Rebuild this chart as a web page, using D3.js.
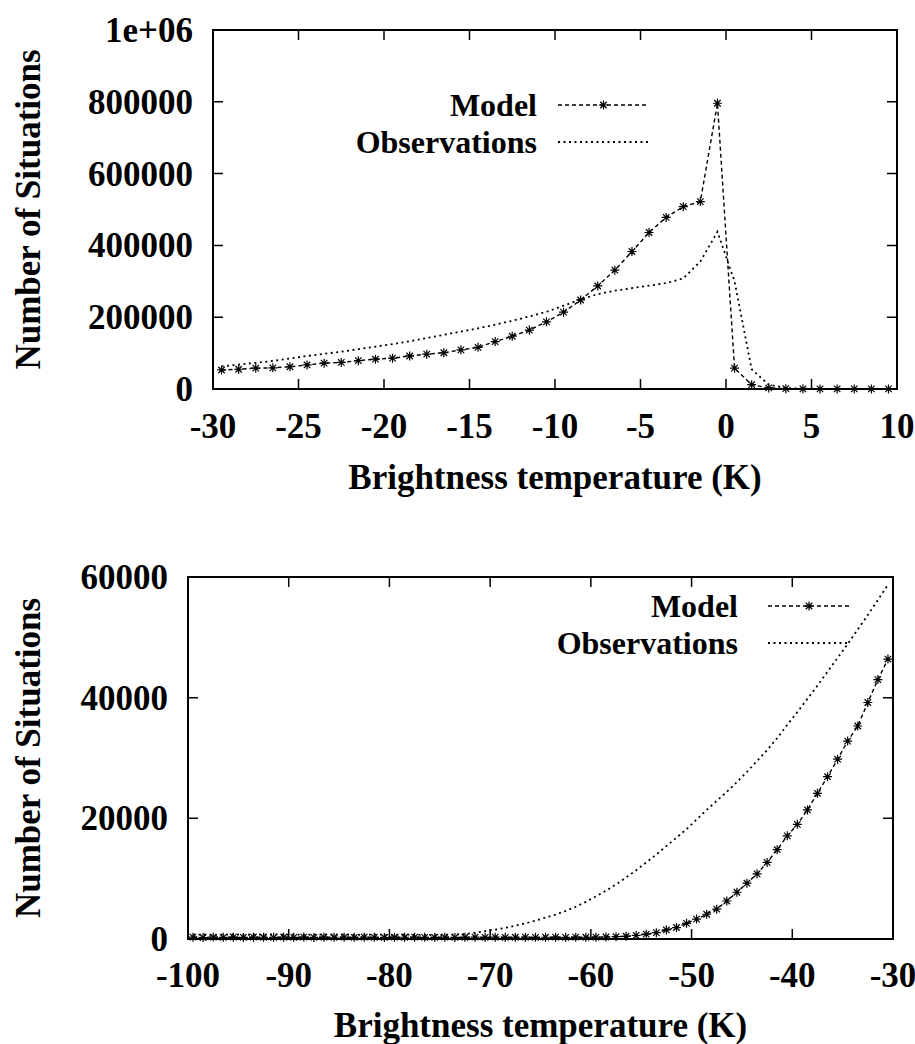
<!DOCTYPE html>
<html>
<head>
<meta charset="utf-8">
<script src="https://cdn.jsdelivr.net/npm/d3@7"></script>
<style>
  html, body { margin: 0; padding: 0; background: #fff; }
  svg { display: block; }
  text { font-family: "Liberation Serif", "Times New Roman", serif; font-weight: bold; fill: #000; }
</style>
</head>
<body>
<svg id="chart" width="915" height="1044"></svg>
<script>
// ---- top panel: -30 .. 10 K ----
const topBins = [-29.5, -28.5, -27.5, -26.5, -25.5, -24.5, -23.5, -22.5, -21.5, -20.5,
  -19.5, -18.5, -17.5, -16.5, -15.5, -14.5, -13.5, -12.5, -11.5, -10.5,
  -9.5, -8.5, -7.5, -6.5, -5.5, -4.5, -3.5, -2.5, -1.5, -0.5,
  0.5, 1.5, 2.5, 3.5, 4.5, 5.5, 6.5, 7.5, 8.5, 9.5];
const topModel = [53000, 55000, 58000, 59000, 62000, 67000, 72000, 74000, 79000, 83000,
  86000, 92000, 97000, 101000, 109000, 116000, 132000, 147000, 164000, 187000,
  214000, 248000, 287000, 331000, 383000, 436000, 478000, 508000, 522000, 796000,
  58000, 12000, 3000, 1000, 500, 300, 300, 300, 300, 300];
const topObs = [63000, 68000, 73000, 78000, 85000, 92000, 98000, 104000, 111000, 118000,
  125000, 133000, 142000, 151000, 160000, 169000, 179000, 190000, 202000, 215000,
  232000, 250000, 264000, 274000, 281000, 288000, 295000, 308000, 355000, 438000,
  300000, 55000, 12000, 3000, 1000, 500, 300, 300, 300, 300];
const topXTicks = [-30, -25, -20, -15, -10, -5, 0, 5, 10];
const topYTicks = [0, 200000, 400000, 600000, 800000, 1000000];

// ---- bottom panel: -100 .. -30 K ----
const botBins = [-99.5, -98.5, -97.5, -96.5, -95.5, -94.5, -93.5, -92.5, -91.5, -90.5,
  -89.5, -88.5, -87.5, -86.5, -85.5, -84.5, -83.5, -82.5, -81.5, -80.5,
  -79.5, -78.5, -77.5, -76.5, -75.5, -74.5, -73.5, -72.5, -71.5, -70.5,
  -69.5, -68.5, -67.5, -66.5, -65.5, -64.5, -63.5, -62.5, -61.5, -60.5,
  -59.5, -58.5, -57.5, -56.5, -55.5, -54.5, -53.5, -52.5, -51.5, -50.5,
  -49.5, -48.5, -47.5, -46.5, -45.5, -44.5, -43.5, -42.5, -41.5, -40.5,
  -39.5, -38.5, -37.5, -36.5, -35.5, -34.5, -33.5, -32.5, -31.5, -30.5];
const botModel = [300, 250, 320, 280, 300, 260, 310, 290, 270, 300,
  280, 320, 260, 300, 290, 310, 270, 300, 280, 260,
  300, 290, 310, 270, 280, 300, 260, 290, 300, 270,
  310, 280, 290, 300, 270, 290, 300, 280, 300, 290,
  310, 330, 380, 450, 600, 800, 1050, 1500, 1900, 2600,
  3300, 4100, 4950, 6300, 7750, 9250, 10800, 12700, 14800, 17100,
  19000, 21400, 24150, 26900, 29800, 32800, 35300, 39200, 43000, 46400];
const botObs = [700, 750, 680, 720, 760, 690, 730, 710, 770, 700,
  740, 690, 720, 750, 700, 730, 680, 720, 740, 700,
  690, 720, 700, 680, 650, 680, 750, 850, 1050, 1300,
  1550, 1850, 2200, 2600, 3050, 3550, 4050, 4650, 5350, 6150,
  7050, 8000, 9050, 10200, 11400, 12700, 14000, 15400, 16800, 18200,
  19800, 21400, 22900, 24400, 26000, 27700, 29500, 31300, 33300, 35500,
  37600, 39800, 42000, 44300, 46600, 48900, 51300, 53700, 56200, 58700];
const botXTicks = [-100, -90, -80, -70, -60, -50, -40, -30];
const botYTicks = [0, 20000, 40000, 60000];

const svg = d3.select('#chart');
svg.append('rect').attr('width', 915).attr('height', 1044).attr('fill', '#fff');

const FONT = 35;
const LEGEND_FONT = 32;
const modelDash = '4,3';
const obsDash = '2,3.5';

// asterisk marker (gnuplot point type 3)
function starPath(s) {
  const d = s * 0.72;
  return `M${-s},0H${s}M0,${-s}V${s}M${-d},${-d}L${d},${d}M${-d},${d}L${d},${-d}`;
}

function drawPanel(p) {
  const g = svg.append('g');
  const x = d3.scaleLinear().domain(p.xDomain).range([p.left, p.right]);
  const y = d3.scaleLinear().domain(p.yDomain).range([p.bottom, p.top]);

  const clipId = 'clip' + p.id;
  svg.append('clipPath').attr('id', clipId)
    .append('rect')
    .attr('x', p.left).attr('y', p.top - 2)
    .attr('width', p.right - p.left).attr('height', p.bottom - p.top + 8);

  // ticks inside, mirrored on all sides
  const tickLen = 10;
  g.selectAll('.xt').data(p.xTicks).join('path')
    .attr('d', d => `M${x(d)},${p.bottom}v${-tickLen}M${x(d)},${p.top}v${tickLen}`)
    .attr('stroke', '#000').attr('stroke-width', 1.5);
  g.selectAll('.yt').data(p.yTicks).join('path')
    .attr('d', d => `M${p.left},${y(d)}h${tickLen}M${p.right},${y(d)}h${-tickLen}`)
    .attr('stroke', '#000').attr('stroke-width', 1.5);

  // tick labels
  g.selectAll('.xl').data(p.xTicks).join('text')
    .attr('x', d => x(d)).attr('y', p.xLabelY)
    .attr('text-anchor', 'middle')
    .style('font-size', FONT + 'px')
    .text(d => d);
  g.selectAll('.yl').data(p.yTicks).join('text')
    .attr('x', p.left - 20).attr('y', d => y(d) + 12)
    .attr('text-anchor', 'end')
    .style('font-size', FONT + 'px')
    .text(p.yFormat);

  // axis titles
  g.append('text')
    .attr('x', (p.left + p.right) / 2).attr('y', p.xTitleY)
    .attr('text-anchor', 'middle')
    .style('font-size', FONT + 'px')
    .text('Brightness temperature (K)');
  g.append('text')
    .attr('transform', `translate(40,${(p.top + p.bottom) / 2}) rotate(-90)`)
    .attr('text-anchor', 'middle')
    .style('font-size', FONT + 'px')
    .text('Number of Situations');

  const line = d3.line().x(d => x(d[0])).y(d => y(d[1]));
  const plot = g.append('g').attr('clip-path', `url(#${clipId})`);

  const obsPts = p.bins.map((b, i) => [b, p.obs[i]]);
  const modelPts = p.bins.map((b, i) => [b, p.model[i]]);

  plot.append('path').datum(obsPts)
    .attr('d', line).attr('fill', 'none')
    .attr('stroke', '#000').attr('stroke-width', 1.8)
    .attr('stroke-dasharray', obsDash);
  plot.append('path').datum(modelPts)
    .attr('d', line).attr('fill', 'none')
    .attr('stroke', '#000').attr('stroke-width', 1.4)
    .attr('stroke-dasharray', modelDash);
  plot.selectAll('.star').data(modelPts).join('path')
    .attr('transform', d => `translate(${x(d[0])},${y(d[1])})`)
    .attr('d', starPath(4.5))
    .attr('fill', 'none').attr('stroke', '#000').attr('stroke-width', 1.2);

  // legend
  const L = p.legend;
  g.append('text').attr('x', L.textRight).attr('y', L.y1 + 11)
    .attr('text-anchor', 'end').style('font-size', LEGEND_FONT + 'px').text('Model');
  g.append('text').attr('x', L.textRight).attr('y', L.y2 + 11)
    .attr('text-anchor', 'end').style('font-size', LEGEND_FONT + 'px').text('Observations');
  g.append('line')
    .attr('x1', L.x0).attr('x2', L.x1).attr('y1', L.y1).attr('y2', L.y1)
    .attr('stroke', '#000').attr('stroke-width', 1.4).attr('stroke-dasharray', modelDash);
  g.append('path')
    .attr('transform', `translate(${(L.x0 + L.x1) / 2},${L.y1})`)
    .attr('d', starPath(4.5))
    .attr('fill', 'none').attr('stroke', '#000').attr('stroke-width', 1.2);
  g.append('line')
    .attr('x1', L.x0).attr('x2', L.x1).attr('y1', L.y2).attr('y2', L.y2)
    .attr('stroke', '#000').attr('stroke-width', 1.8).attr('stroke-dasharray', obsDash);

  // frame
  g.append('rect')
    .attr('x', p.left).attr('y', p.top)
    .attr('width', p.right - p.left).attr('height', p.bottom - p.top)
    .attr('fill', 'none').attr('stroke', '#000').attr('stroke-width', 2);
}

drawPanel({
  id: 'top',
  left: 213, right: 897, top: 30, bottom: 389,
  xDomain: [-30, 10], yDomain: [0, 1000000],
  xTicks: topXTicks, yTicks: topYTicks,
  yFormat: d => d === 1000000 ? '1e+06' : d,
  xLabelY: 438, xTitleY: 489,
  bins: topBins, model: topModel, obs: topObs,
  legend: { textRight: 537, y1: 105, y2: 142, x0: 558, x1: 649 }
});

drawPanel({
  id: 'bot',
  left: 188, right: 893, top: 577, bottom: 939,
  xDomain: [-100, -30], yDomain: [0, 60000],
  xTicks: botXTicks, yTicks: botYTicks,
  yFormat: d => d,
  xLabelY: 987, xTitleY: 1037,
  bins: botBins, model: botModel, obs: botObs,
  legend: { textRight: 738, y1: 606, y2: 643, x0: 768, x1: 850 }
});
</script>
</body>
</html>
